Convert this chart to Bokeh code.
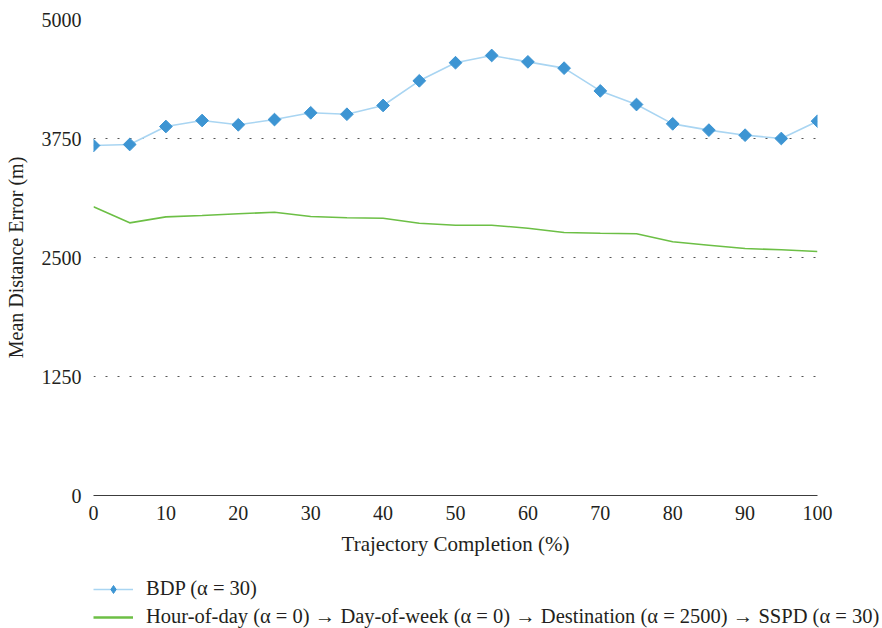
import math
from bokeh.plotting import figure
from bokeh.models import Legend, LegendItem, FixedTicker
from bokeh.embed import file_html
from bokeh.resources import INLINE

# Trajectory completion (%) sampled every 5 %
completion = [0, 5, 10, 15, 20, 25, 30, 35, 40, 45, 50,
              55, 60, 65, 70, 75, 80, 85, 90, 95, 100]

# Mean distance error (m) for each method
bdp = [3676, 3687, 3876, 3939, 3894, 3949, 4020, 4005, 4097, 4356, 4546,
       4622, 4555, 4489, 4250, 4107, 3904, 3838, 3785, 3750, 3932]
chain = [3032, 2864, 2927, 2941, 2959, 2976, 2931, 2917, 2913, 2860, 2839,
         2839, 2808, 2763, 2755, 2749, 2665, 2629, 2594, 2581, 2563]

bdp_label = "BDP (α = 30)"
chain_label = ("Hour-of-day (α = 0) → Day-of-week (α = 0) → "
               "Destination (α = 2500) → SSPD (α = 30)")

y_ticks = [0, 1250, 2500, 3750, 5000]
x_ticks = [0, 10, 20, 30, 40, 50, 60, 70, 80, 90, 100]

FONT = "Liberation Serif"
TEXT = "#231f20"
BDP_LINE = "#a9d5f2"
BDP_MARK = "#3d95d3"
CHAIN = "#6cbf45"

p = figure(width=882, height=565, x_range=(0, 100), y_range=(0, 5000),
           output_backend="svg", toolbar_location=None,
           min_border_left=93, min_border_right=65,
           min_border_top=19, min_border_bottom=70)
p.outline_line_color = None
p.background_fill_color = "white"
p.border_fill_color = "white"

# axes
p.xaxis.ticker = FixedTicker(ticks=x_ticks)
p.yaxis.ticker = FixedTicker(ticks=y_ticks)
p.xaxis.axis_label = "Trajectory Completion (%)"
p.yaxis.axis_label = "Mean Distance Error (m)"
for ax in (p.xaxis[0], p.yaxis[0]):
    ax.major_tick_line_color = None
    ax.minor_tick_line_color = None
    ax.major_label_text_font = FONT
    ax.major_label_text_font_size = "20px"
    ax.major_label_text_color = TEXT
    ax.axis_label_text_font = FONT
    ax.axis_label_text_font_style = "normal"
    ax.axis_label_text_color = TEXT
p.xaxis.axis_label_text_font_size = "21px"
p.yaxis.axis_label_text_font_size = "20px"
p.xaxis.axis_line_color = "#3c3c3c"
p.xaxis.axis_line_width = 1.2
p.xaxis.major_label_standoff = 4
p.xaxis.axis_label_standoff = 9
p.yaxis.axis_line_color = None
p.yaxis.major_label_standoff = 6
p.yaxis.axis_label_standoff = 12

# grid
p.xgrid.grid_line_color = None
p.ygrid.grid_line_color = "#555555"
p.ygrid.grid_line_dash = "2 10"
p.ygrid.grid_line_width = 1.2

# series
p.line(completion, chain, line_color=CHAIN, line_width=1.6)
p.line(completion, bdp, line_color=BDP_LINE, line_width=1.6)
p.scatter(completion, bdp, marker="square", size=9, angle=math.pi / 4,
          fill_color=BDP_MARK, line_color=BDP_MARK)

# legend strip underneath the chart; its ranges keep the series out of view
lg = figure(width=882, height=63, x_range=(-2, -1), y_range=(-2, -1),
            x_axis_type=None, y_axis_type=None,
            output_backend="svg", toolbar_location=None,
            min_border_left=0, min_border_right=0,
            min_border_top=0, min_border_bottom=0)
lg.outline_line_color = None
lg.grid.visible = False
k_line = lg.line(completion, bdp, line_color=BDP_LINE, line_width=1.6)
k_mark = lg.scatter(completion, bdp, marker="diamond", size=12,
                    fill_color=BDP_MARK, line_color=BDP_MARK)
k_chain = lg.line(completion, chain, line_color=CHAIN, line_width=2.4)

legend = Legend(items=[LegendItem(label=bdp_label, renderers=[k_line, k_mark]),
                       LegendItem(label=chain_label, renderers=[k_chain])],
                location=(93, 0), orientation="vertical",
                background_fill_alpha=0, border_line_color=None,
                label_text_font=FONT, label_text_font_size="20.5px",
                label_text_color=TEXT, glyph_width=40, glyph_height=20,
                label_height=20, label_standoff=13, spacing=5,
                padding=2, margin=0)
lg.add_layout(legend, "center")

open("out.html", "w").write(file_html([p, lg], INLINE))
